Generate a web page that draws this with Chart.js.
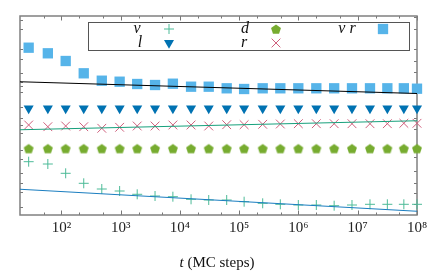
<!DOCTYPE html>
<html>
<head>
<meta charset="utf-8">
<script src="https://cdn.jsdelivr.net/npm/chart.js@4.4.1/dist/chart.umd.min.js"></script>
<style>
  body { margin: 0; background: #fff; }
</style>
</head>
<body>
<canvas id="myChart" width="440" height="275"></canvas>
<script>
// MC steps at which the quantities were sampled
var steps = [28, 59, 118, 238, 480, 960, 1900, 3800, 7600, 15400, 30600, 61500,
	121000, 249000, 494000, 994000, 2.0e6, 4.0e6, 8.0e6, 1.61e7, 3.16e7, 6.0e7, 1.0e8];

// y values (arbitrary units, no y labels in the figure)
var nu = [53.3, 51, 41.7, 31.7, 26, 24, 20.7, 19, 18.3, 15.7, 15, 15,
	13.3, 11.7, 10.7, 10, 10, 9.3, 10, 10.7, 10.7, 10.7, 10.7];
var ell = [106.5, 106.5, 106.5, 106.5, 106.5, 106.5, 106.5, 106.5, 106.5, 106.5, 106.5, 106.5,
	106.5, 106.5, 106.5, 106.5, 106.5, 106.5, 106.5, 106.5, 106.5, 106.5, 106.5];
var dd = [66.5, 66.5, 66.5, 66.5, 66.5, 66.5, 66.5, 66.5, 66.5, 66.5, 66.5, 66.5,
	66.5, 66.5, 66.5, 66.5, 66.5, 66.5, 66.5, 66.5, 66.5, 66.5, 66.5];
var rr = [90, 88.3, 89, 88.3, 86.7, 87.7, 89, 89, 90, 90, 89, 90.3,
	90.3, 90.7, 91, 91.3, 91.3, 91.3, 91.3, 91.3, 91.3, 91.7, 91.7];
var nuR = [167.3, 161.7, 154, 141.7, 134.3, 133.3, 131, 130, 131.3, 128.3, 128.3, 126.7,
	126, 126.7, 126.7, 126.7, 126.7, 126.7, 126.7, 126.7, 126.7, 126.7, 126.3];

// straight fits, value at each end of the t range
var fitEnds = [20, 1e8];
var fitNuR = [133.3, 121.5];
var fitR = [85.3, 94.3];
var fitNu = [25.7, 3.7];

// axis ticks
var xTicks = [50, 100, 200, 500, 1e3, 2e3, 5e3, 1e4, 2e4, 5e4, 1e5, 2e5, 5e5,
	1e6, 2e6, 5e6, 1e7, 2e7, 5e7, 1e8];
var yTicksLeft = [195, 186, 166, 156, 142.3, 133.3, 129, 123, 108.3, 97.3, 90, 82, 65, 56, 42.3, 32, 23.3, 8.3];
var yTicksRight = [198.3, 186, 165.7, 154.3, 143.3, 122, 108.3, 97, 86.3, 58.3, 44, 32.3, 22.3, 10.7];

var sup = { 1: '\u00b9', 2: '\u00b2', 3: '\u00b3', 4: '\u2074', 5: '\u2075', 6: '\u2076', 7: '\u2077', 8: '\u2078' };
var serif = "'Liberation Serif', 'DejaVu Serif', serif";

function pts(ys, xs) {
	return ys.map(function(v, i) { return { x: xs[i], y: v }; });
}

function pentagon(color, rad) {
	var c = document.createElement('canvas');
	var s = 12;
	c.width = s; c.height = s;
	var g = c.getContext('2d');
	g.fillStyle = color;
	g.beginPath();
	for (var i = 0; i < 5; i++) {
		var a = -Math.PI / 2 + i * 2 * Math.PI / 5;
		var px = s / 2 + rad * Math.cos(a), py = s / 2 + 0.6 + rad * Math.sin(a);
		if (i) g.lineTo(px, py); else g.moveTo(px, py);
	}
	g.closePath();
	g.fill();
	return c;
}
var pent = pentagon('#77ac30', 5.2);

var frame = {
	id: 'frame',
	beforeDatasetsDraw: function(chart) {
		var ctx = chart.ctx, a = chart.chartArea;
		var xs = chart.scales.x, ys = chart.scales.y;
		ctx.save();
		ctx.strokeStyle = '#777';
		ctx.lineWidth = 1;
		ctx.beginPath();
		xTicks.forEach(function(v) {
			var px = Math.round(xs.getPixelForValue(v)) + 0.5;
			var big = Math.abs(Math.log10(v) - Math.round(Math.log10(v))) < 1e-6;
			var len = big ? 4.5 : 2.5;
			ctx.moveTo(px, a.bottom); ctx.lineTo(px, a.bottom - len);
			ctx.moveTo(px, a.top); ctx.lineTo(px, a.top + len);
		});
		yTicksLeft.forEach(function(v) {
			var py = Math.round(ys.getPixelForValue(v)) + 0.5;
			ctx.moveTo(a.left, py); ctx.lineTo(a.left + 3, py);
		});
		yTicksRight.forEach(function(v) {
			var py = Math.round(ys.getPixelForValue(v)) + 0.5;
			ctx.moveTo(a.right, py); ctx.lineTo(a.right - 3, py);
		});
		ctx.stroke();
		ctx.lineWidth = 1.5;
		ctx.strokeStyle = '#808080';
		ctx.strokeRect(a.left, a.top, a.right - a.left, a.bottom - a.top);
		ctx.restore();
	},
	afterDraw: function(chart) {
		var ctx = chart.ctx;
		var ds = chart.data.datasets;
		ctx.save();
		// legend box
		ctx.strokeStyle = '#555';
		ctx.lineWidth = 1;
		ctx.strokeRect(88.5, 22.5, 321, 28);
		var items = [
			{ t: '\u03bd', tx: 137, mx: 169, y: 29, d: 3 },
			{ t: 'd', tx: 245, mx: 276, y: 29, d: 5 },
			{ t: '\u03bd r', tx: 347, mx: 383, y: 29, d: 7 },
			{ t: 'l', tx: 140, mx: 169, y: 43, d: 4 },
			{ t: 'r', tx: 244, mx: 276, y: 43, d: 6 }
		];
		ctx.font = 'italic 16px ' + serif;
		ctx.textAlign = 'center';
		ctx.textBaseline = 'middle';
		items.forEach(function(it) {
			var d = ds[it.d];
			ctx.fillStyle = '#111';
			ctx.fillText(it.t, it.tx, it.y);
			ctx.fillStyle = d.backgroundColor;
			ctx.strokeStyle = d.borderColor;
			ctx.lineWidth = d.borderWidth || 0;
			Chart.helpers.drawPoint(ctx, {
				pointStyle: d.pointStyle, radius: d.pointRadius,
				rotation: d.pointRotation || 0, borderWidth: d.borderWidth || 0
			}, it.mx, it.y);
		});
		// x axis title
		ctx.fillStyle = '#111';
		ctx.textBaseline = 'alphabetic';
		ctx.textAlign = 'left';
		ctx.font = 'italic 15px ' + serif;
		var w1 = ctx.measureText('t').width;
		ctx.font = '15px ' + serif;
		var rest = ' (MC steps)';
		var w2 = ctx.measureText(rest).width;
		var x0 = 217 - (w1 + w2) / 2;
		ctx.font = 'italic 15px ' + serif;
		ctx.fillText('t', x0, 267);
		ctx.font = '15px ' + serif;
		ctx.fillText(rest, x0 + w1, 267);
		ctx.restore();
	}
};

var ctx = document.getElementById('myChart').getContext('2d');
var chart = new Chart(ctx, {
	type: 'scatter',
	data: {
		datasets: [
			{ label: 'fit nu r', data: pts(fitNuR, fitEnds), showLine: true, pointRadius: 0,
				borderColor: '#000', borderWidth: 1.1, order: 0 },
			{ label: 'fit r', data: pts(fitR, fitEnds), showLine: true, pointRadius: 0,
				borderColor: '#18a07c', borderWidth: 1.1, order: 0 },
			{ label: 'fit nu', data: pts(fitNu, fitEnds), showLine: true, pointRadius: 0,
				borderColor: '#1b7ec0', borderWidth: 1.1, order: 0 },
			{ label: '\u03bd', data: pts(nu, steps), pointStyle: 'cross', pointRadius: 5,
				backgroundColor: '#4dbb98', borderColor: '#4dbb98', borderWidth: 1, order: 1, clip: false },
			{ label: 'l', data: pts(ell, steps), pointStyle: 'triangle', pointRotation: 180, pointRadius: 5.8,
				backgroundColor: '#0072b2', borderColor: '#0072b2', borderWidth: 0, order: 1, clip: false },
			{ label: 'd', data: pts(dd, steps), pointStyle: pent, pointRadius: 5,
				backgroundColor: '#77ac30', borderColor: '#77ac30', borderWidth: 0, order: 1, clip: false },
			{ label: 'r', data: pts(rr, steps), pointStyle: 'crossRot', pointRadius: 6.2,
				backgroundColor: '#cf5f7c', borderColor: '#cf5f7c', borderWidth: 1, order: 1, clip: false },
			{ label: '\u03bd r', data: pts(nuR, steps), pointStyle: 'rect', pointRadius: 7.3,
				backgroundColor: '#56b4e9', borderColor: '#56b4e9', borderWidth: 0, order: 1, clip: false }
		]
	},
	options: {
		responsive: false,
		animation: false,
		layout: { padding: { left: 0, right: 23, top: 16, bottom: 0 } },
		plugins: { legend: { display: false }, tooltip: { enabled: false } },
		scales: {
			x: {
				type: 'logarithmic', min: 20, max: 1e8,
				grid: { display: false, drawTicks: false },
				border: { display: false },
				afterBuildTicks: function(s) { s.ticks = xTicks.map(function(v) { return { value: v }; }); },
				afterFit: function(s) { s.height = 60; },
				ticks: {
					autoSkip: false, maxRotation: 0, minRotation: 0, padding: 4, color: '#222',
					font: { family: serif, size: 15 },
					callback: function(v) {
						var e = Math.round(Math.log10(v));
						return Math.abs(Math.log10(v) - e) < 1e-6 ? '10' + sup[e] : '';
					}
				}
			},
			y: {
				min: 0, max: 199,
				grid: { display: false, drawTicks: false },
				border: { display: false },
				ticks: { display: false },
				afterFit: function(s) { s.width = 20; }
			}
		}
	},
	plugins: [frame]
});
</script>
</body>
</html>
